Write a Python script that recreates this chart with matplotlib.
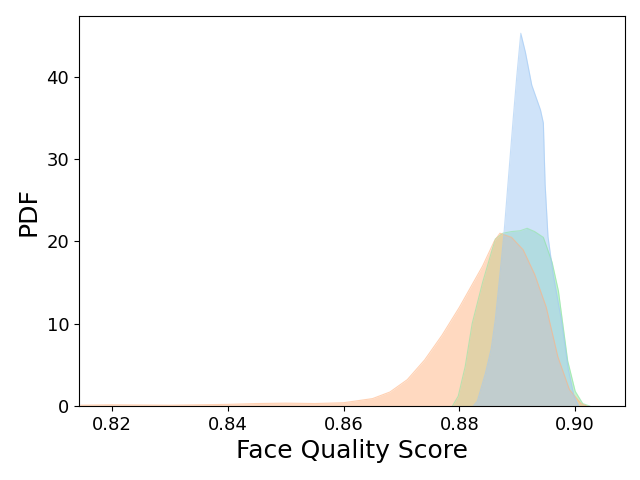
import matplotlib
matplotlib.use("Agg")
import matplotlib.pyplot as plt
import numpy as np

# face quality score densities
green_x = [0.8788, 0.8798, 0.8810, 0.8822, 0.8840, 0.8862, 0.8875, 0.8890,
           0.8905, 0.8917, 0.8930, 0.8945, 0.8960, 0.8971, 0.8987, 0.9000, 0.9013, 0.9025]
green_y = [0.0, 1.2, 4.8, 10.0, 15.0, 20.3, 21.0, 21.2,
           21.3, 21.6, 21.2, 20.5, 17.5, 14.0, 5.5, 1.8, 0.3, 0.0]

orange_x = [0.8146, 0.820, 0.830, 0.840, 0.845, 0.850, 0.855, 0.860, 0.865, 0.868, 0.871,
            0.874, 0.877, 0.880, 0.882, 0.884, 0.886, 0.887, 0.889, 0.891, 0.893, 0.895,
            0.897, 0.899, 0.901, 0.902]
orange_y = [0.1, 0.15, 0.1, 0.2, 0.3, 0.35, 0.3, 0.4, 0.9, 1.7, 3.2,
            5.6, 8.6, 12.0, 14.5, 17.0, 20.0, 21.0, 20.5, 19.0, 16.0, 12.0,
            6.0, 2.0, 0.3, 0.0]

blue_x = [0.8824, 0.8831, 0.8845, 0.8855, 0.8862, 0.8870, 0.8877, 0.8885, 0.8893,
          0.8899, 0.8906, 0.8914, 0.8925, 0.8935, 0.8940, 0.8945, 0.8948, 0.8953,
          0.8962, 0.8976, 0.8988, 0.8998, 0.9006]
blue_y = [0.0, 0.6, 4.0, 7.0, 10.5, 16.0, 21.0, 28.0, 35.0,
          40.0, 45.3, 43.0, 39.0, 37.0, 36.0, 34.4, 27.0, 20.6,
          16.0, 10.5, 4.5, 1.2, 0.0]

series = [
    (green_x, green_y, "#8de5a1"),
    (orange_x, orange_y, "#ffb482"),
    (blue_x, blue_y, "#a1c9f4"),
]

fig = plt.figure(figsize=(6.4, 4.8), dpi=100)
ax = fig.add_axes([79 / 640, 1 - 406 / 480, 546 / 640, 390 / 480])

for xs, ys, col in series:
    ax.fill_between(xs, ys, 0, color=col, alpha=0.5, linewidth=0)
    ax.plot(xs, ys, color=col, alpha=0.6, linewidth=0.8)

ax.set_xlim(0.8143, 0.9086)
ax.set_ylim(0, 47.4)
ax.set_xticks([0.82, 0.84, 0.86, 0.88, 0.90])
ax.set_xticklabels(["0.82", "0.84", "0.86", "0.88", "0.90"])
ax.set_yticks([0, 10, 20, 30, 40])
ax.tick_params(labelsize=13)
ax.set_xlabel("Face Quality Score", fontsize=18)
ax.set_ylabel("PDF", fontsize=18)

fig.savefig("out.png")
